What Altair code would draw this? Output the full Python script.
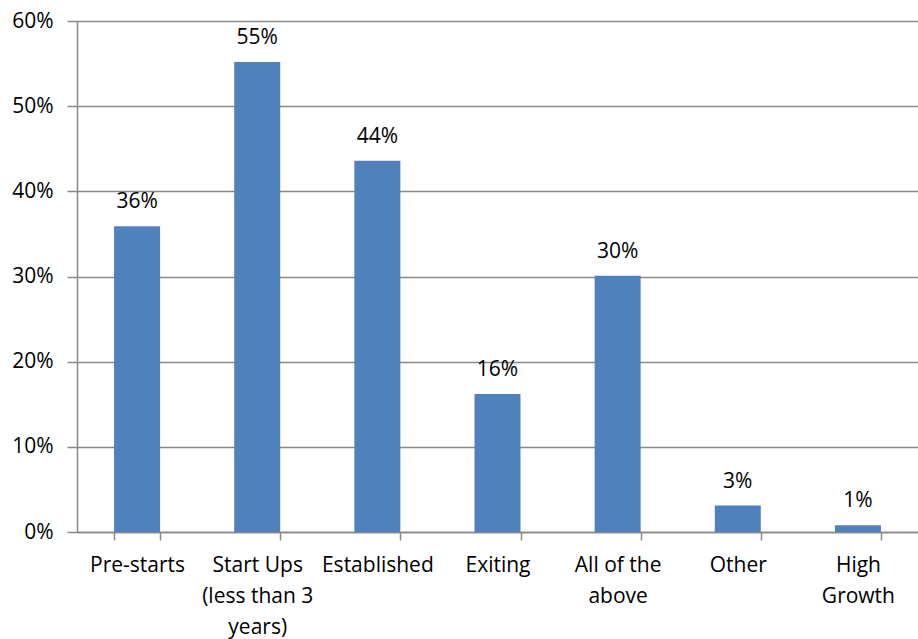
import altair as alt
import pandas as pd

categories = ["Pre-starts", "Start Ups\n(less than 3\nyears)", "Established", "Exiting",
              "All of the\nabove", "Other", "High\nGrowth"]
values = [0.359, 0.552, 0.436, 0.162, 0.301, 0.031, 0.008]
labels = ["36%", "55%", "44%", "16%", "30%", "3%", "1%"]
y_ticks = [0.0, 0.1, 0.2, 0.3, 0.4, 0.5, 0.6]

df = pd.DataFrame({"cat": categories, "val": values, "lab": labels})

FONT = "Open Sans"
FS = 21
GRID = "#888888"

x = alt.X(
    "cat:N", sort=categories, title=None,
    scale=alt.Scale(paddingInner=0.617, paddingOuter=0.3085),
    axis=alt.Axis(labelAngle=0, labelExpr="split(datum.label, '\\n')", tickBand="extent",
                  tickSize=8, labelPadding=14, labelFont=FONT, labelFontSize=FS,
                  labelColor="#000000", labelLineHeight=31, labelBaseline="top",
                  domainColor=GRID, tickColor=GRID, domainWidth=1.5, tickWidth=1.5,
                  grid=False),
)
y = alt.Y(
    "val:Q", title=None,
    scale=alt.Scale(domain=[0, 0.6], nice=False),
    axis=alt.Axis(format=".0%", values=y_ticks, tickSize=10, labelPadding=14,
                  labelFont=FONT, labelFontSize=FS, labelColor="#000000",
                  grid=True, gridColor=GRID, gridWidth=1.5, domainColor=GRID,
                  tickColor=GRID, domainWidth=1.5, tickWidth=1.5),
)

bars = alt.Chart(df).mark_bar(color="#4F81BD").encode(x=x, y=y)
text = alt.Chart(df).mark_text(dy=-18, baseline="alphabetic", font=FONT, fontSize=FS,
                               color="#000000").encode(x=x, y=y, text="lab:N")

chart = alt.layer(bars, text).properties(
    width=841, height=511,
    padding={"left": 77, "top": 21, "right": 0, "bottom": 107},
    autosize=alt.AutoSizeParams(type="none"),
).configure_view(stroke=None)

chart.save("out.html", embed_options={"renderer": "svg", "actions": False})
